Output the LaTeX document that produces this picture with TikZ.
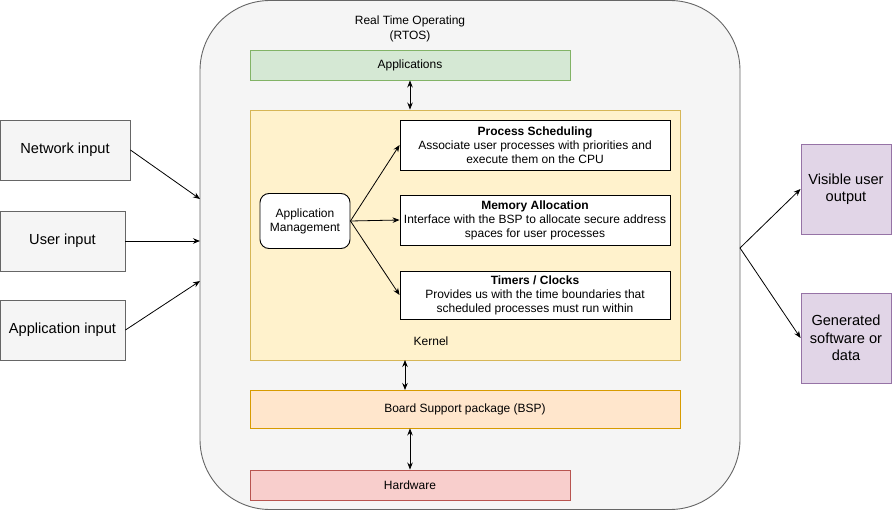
\documentclass[tikz,border=0pt]{standalone}
\usepackage{fontspec}
\setmainfont{Liberation Sans}
\usetikzlibrary{arrows.meta}
\definecolor{grayfill}{HTML}{F5F5F5}
\definecolor{graystroke}{HTML}{666666}
\definecolor{greenfill}{HTML}{D5E8D4}
\definecolor{greenstroke}{HTML}{82B366}
\definecolor{yellowfill}{HTML}{FFF2CC}
\definecolor{yellowstroke}{HTML}{D6B656}
\definecolor{orangefill}{HTML}{FFE6CC}
\definecolor{orangestroke}{HTML}{D79B00}
\definecolor{redfill}{HTML}{F8CECC}
\definecolor{redstroke}{HTML}{B85450}
\definecolor{purplefill}{HTML}{E1D5E7}
\definecolor{purplestroke}{HTML}{9673A6}
\tikzset{
  base/.style={draw, line width=0.9pt, inner sep=2pt, align=center, font=\fontsize{12}{14}\selectfont},
  inbox/.style={base, fill=grayfill, draw=graystroke, font=\fontsize{14.6}{17.5}\selectfont},
  outbox/.style={base, fill=purplefill, draw=purplestroke, font=\fontsize{14.6}{17.5}\selectfont},
  whitebox/.style={base, fill=white, draw=black},
  conn/.style={line width=0.8pt, -{Stealth[length=7pt,width=5.5pt]}},
  bconn/.style={line width=0.8pt, {Stealth[length=7pt,width=5.5pt]}-{Stealth[length=7pt,width=5.5pt]}},
  lbl/.style={inner sep=0pt, align=center, font=\fontsize{12}{15}\selectfont}
}
\begin{document}
\begin{tikzpicture}[x=1pt,y=-1pt]
\useasboundingbox (0,0) rectangle (892,511);
% RTOS frame
\node[base, fill=grayfill, draw=graystroke, rounded corners=70pt, minimum width=540pt, minimum height=509pt] (rtos) at (470,255) {};
\node[lbl] (title) at (410,28.5) {Real Time Operating\\(RTOS)};
% layers
\node[base, fill=greenfill, draw=greenstroke, minimum width=320pt, minimum height=30pt] (apps) at (410,65) {Applications};
\node[base, fill=yellowfill, draw=yellowstroke, minimum width=430pt, minimum height=250pt] (kernel) at (465,235) {};
\node[lbl] (kernellbl) at (431,341) {Kernel};
\node[base, fill=orangefill, draw=orangestroke, minimum width=430pt, minimum height=38pt] (bsp) at (465,409) {Board Support package (BSP)};
\node[base, fill=redfill, draw=redstroke, minimum width=320pt, minimum height=30pt] (hw) at (410,485) {Hardware};
% kernel content
\node[whitebox, rounded corners=9pt, minimum width=90pt, minimum height=55pt] (am) at (305,221) {Application\\Management};
\node[whitebox, minimum width=270pt, minimum height=50pt] (ps) at (535,145) {\textbf{Process Scheduling}\\Associate user processes with priorities and\\execute them on the CPU};
\node[whitebox, minimum width=270pt, minimum height=50pt] (ma) at (535,220) {\textbf{Memory Allocation}\\Interface with the BSP to allocate secure address\\spaces for user processes};
\node[whitebox, minimum width=270pt, minimum height=48pt] (tc) at (535,295) {\textbf{Timers / Clocks}\\Provides us with the time boundaries that\\scheduled processes must run within};
% inputs
\node[inbox, minimum width=130pt, minimum height=60pt] (net) at (65,150) {Network input};
\node[inbox, minimum width=125pt, minimum height=60pt] (usr) at (62.5,241) {User input};
\node[inbox, minimum width=125pt, minimum height=60pt] (appin) at (62.5,330) {Application input};
% outputs
\node[outbox, minimum width=90pt, minimum height=90pt] (vis) at (846,189) {Visible user\\output};
\node[outbox, minimum width=90pt, minimum height=90pt] (gen) at (846,338) {Generated\\software or\\data};
% coordinates on frame
\coordinate (in1) at (200,199);
\coordinate (in2) at (200,241);
\coordinate (in3) at (200,281);
\coordinate (outp) at (740,248);
\coordinate (kb1) at (405,360);
\coordinate (kb2) at (405,390);
% connectors
\draw[conn] (net.east) -- (in1);
\draw[conn] (usr.east) -- (in2);
\draw[conn] (appin.east) -- (in3);
\draw[conn] (outp) -- (vis.west);
\draw[conn] (outp) -- (gen.west);
\draw[bconn] (apps.south) -- (apps.south |- kernel.north);
\draw[bconn] (kb1) -- (kb2);
\draw[bconn] (bsp.south -| hw.north) -- (hw.north);
\draw[conn] (am.east) -- (ps.west);
\draw[conn] (am.east) -- (ma.west);
\draw[conn] (am.east) -- (tc.west);
\end{tikzpicture}
\end{document}
